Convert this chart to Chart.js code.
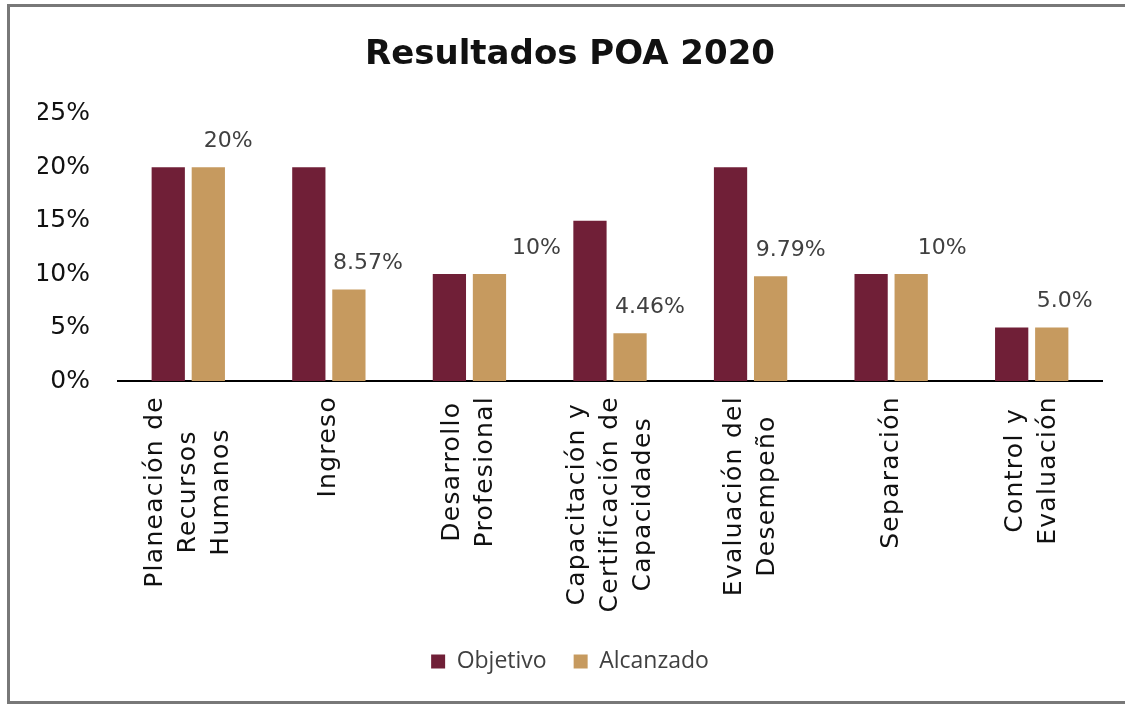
<!DOCTYPE html>
<html>
<head>
<meta charset="utf-8">
<script src="https://cdn.jsdelivr.net/npm/chart.js@4.4.0/dist/chart.umd.min.js"></script>
<style>
  html, body { margin: 0; padding: 0; background: #fff; }
  #wrap { position: relative; width: 1125px; height: 706px; overflow: hidden; }
  #frame { position: absolute; left: 7px; top: 4px; width: 1125px; height: 694px; border: 3px solid #787878; pointer-events: none; }
  canvas { position: absolute; left: 0; top: 0; }
</style>
</head>
<body>
<div id="wrap">
  <canvas id="chart" width="1125" height="706"></canvas>
  <div id="frame"></div>
</div>
<script>
// data
const categories = [
  ["Planeación de", "Recursos", "Humanos"],
  ["Ingreso"],
  ["Desarrollo", "Profesional"],
  ["Capacitación y", "Certificación de", "Capacidades"],
  ["Evaluación del", "Desempeño"],
  ["Separación"],
  ["Control y", "Evaluación"]
];
const objetivo = [20, 20, 10, 15, 20, 10, 5];
const alcanzado = [20, 8.57, 10, 4.46, 9.79, 10, 5.0];
const alcanzadoLabels = ["20%", "8.57%", "10%", "4.46%", "9.79%", "10%", "5.0%"];
const yTicks = [0, 5, 10, 15, 20, 25];

// labels in the original were dragged a bit to the right of each bar
const labelNudge = [20, 19, 47, 20, 20, 31, 13];

const xLabelPlugin = {
  id: "xLabels",
  afterDraw(chart) {
    const ctx = chart.ctx;
    const xs = chart.scales.x;
    ctx.save();
    ctx.font = "25px 'DejaVu Sans'";
    ctx.letterSpacing = "1.3px";
    ctx.fillStyle = "#111";
    ctx.textAlign = "center";
    ctx.textBaseline = "middle";
    categories.forEach((lines, i) => {
      const x = xs.getPixelForTick(i);
      const w = Math.max(...lines.map((l) => ctx.measureText(l).width));
      ctx.save();
      ctx.translate(x, xs.top + 15);
      ctx.rotate(-Math.PI / 2);
      lines.forEach((l, j) => {
        ctx.fillText(l, -w / 2, (j - (lines.length - 1) / 2) * 33);
      });
      ctx.restore();
    });
    ctx.restore();
  }
};

const dataLabelPlugin = {
  id: "dataLabels",
  afterDatasetsDraw(chart) {
    const ctx = chart.ctx;
    const meta = chart.getDatasetMeta(1);
    ctx.save();
    ctx.font = "22px 'DejaVu Sans'";
    ctx.fillStyle = "#404040";
    ctx.textAlign = "center";
    ctx.textBaseline = "middle";
    meta.data.forEach((bar, i) => {
      ctx.fillText(alcanzadoLabels[i], bar.x + labelNudge[i], bar.y - 26);
    });
    ctx.restore();
  }
};

const ctx = document.getElementById("chart").getContext("2d");
new Chart(ctx, {
  type: "bar",
  data: {
    labels: categories,
    datasets: [
      {
        label: "Objetivo",
        data: objetivo,
        backgroundColor: "#701f37",
        categoryPercentage: 0.57,
        barPercentage: 0.83
      },
      {
        label: "Alcanzado",
        data: alcanzado,
        backgroundColor: "#c69a5f",
        categoryPercentage: 0.57,
        barPercentage: 0.83
      }
    ]
  },
  options: {
    responsive: false,
    animation: false,
    layout: { padding: { left: 38, right: 23, top: 0, bottom: 23 } },
    scales: {
      x: {
        grid: { display: false },
        border: { display: true, color: "#000", width: 2 },
        ticks: { display: false },
        afterFit: (s) => { s.height = 242; }
      },
      y: {
        min: 0,
        max: 25,
        grid: { display: false, drawTicks: false },
        border: { display: false },
        ticks: {
          padding: 28,
          color: "#111",
          font: { family: "'DejaVu Sans'", size: 25 },
          callback: (v) => v + "%"
        },
        afterBuildTicks: (s) => { s.ticks = yTicks.map((v) => ({ value: v })); },
        afterFit: (s) => { s.width = 80; }
      }
    },
    plugins: {
      title: {
        display: true,
        text: "Resultados POA 2020",
        color: "#111",
        font: { family: "'DejaVu Sans'", size: 34, weight: "bold" },
        padding: { top: 35, bottom: 38 }
      },
      legend: {
        position: "bottom",
        labels: {
          boxWidth: 14,
          boxHeight: 14,
          padding: 27,
          color: "#404040",
          font: { family: "'Open Sans'", size: 23 }
        }
      },
      tooltip: { enabled: false }
    }
  },
  plugins: [xLabelPlugin, dataLabelPlugin]
});
</script>
</body>
</html>
